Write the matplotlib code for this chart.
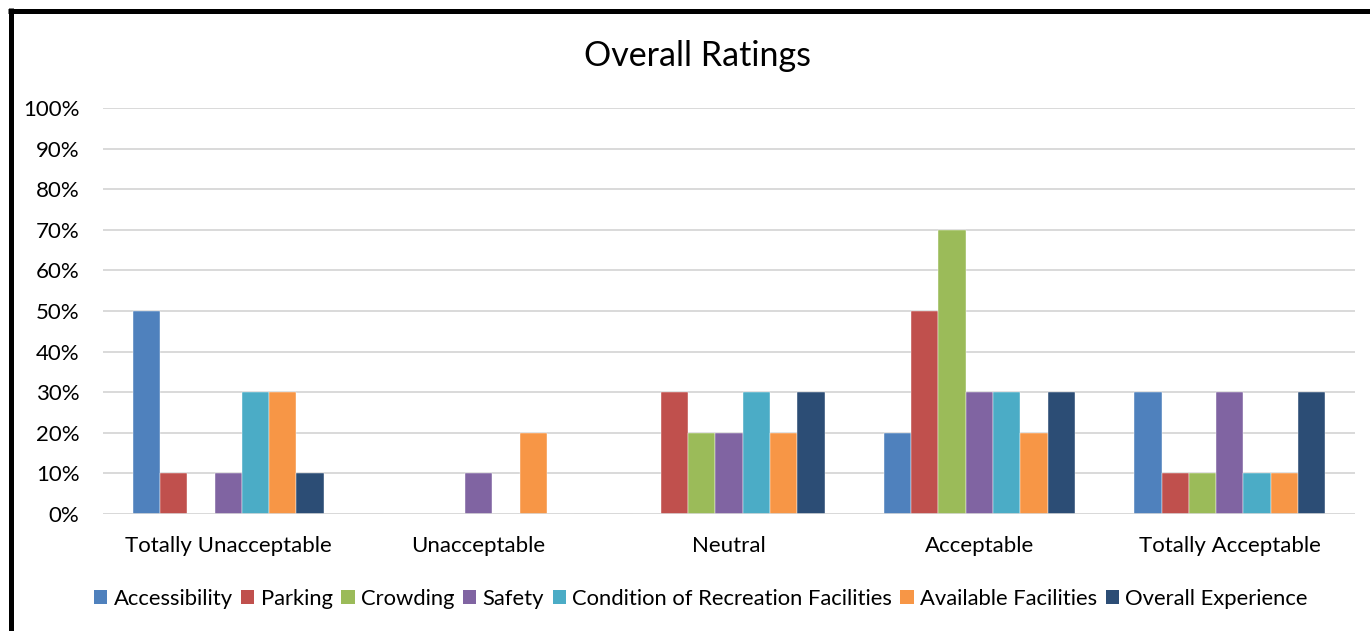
import matplotlib
matplotlib.use("Agg")
import matplotlib.pyplot as plt
from matplotlib.patches import Patch
from matplotlib.lines import Line2D
import numpy as np

categories = ["Totally Unacceptable", "Unacceptable", "Neutral", "Acceptable", "Totally Acceptable"]
series_names = ["Accessibility", "Parking", "Crowding", "Safety",
                "Condition of Recreation Facilities", "Available Facilities", "Overall Experience"]
accessibility = [0.50, 0.00, 0.00, 0.20, 0.30]
parking = [0.10, 0.00, 0.30, 0.50, 0.10]
crowding = [0.00, 0.00, 0.20, 0.70, 0.10]
safety = [0.10, 0.10, 0.20, 0.30, 0.30]
condition = [0.30, 0.00, 0.30, 0.30, 0.10]
available = [0.30, 0.20, 0.20, 0.20, 0.10]
overall = [0.10, 0.00, 0.30, 0.30, 0.30]
series_values = [accessibility, parking, crowding, safety, condition, available, overall]
colors = ["#4F81BD", "#C0504D", "#9BBB59", "#8064A2", "#4BACC6", "#F79646", "#2C4D75"]
y_ticks = [i / 10 for i in range(11)]
y_tick_labels = [f"{i*10}%" for i in range(11)]

W, H = 1370, 631
fig = plt.figure(figsize=(W / 100, H / 100), dpi=100)
plt.rcParams['font.family'] = ['Lato', 'DejaVu Sans']

left, right, top, bottom = 103, 1355, 108, 514
ax = fig.add_axes([left / W, (H - bottom) / H, (right - left) / W, (bottom - top) / H])

x = np.arange(len(categories))
bw = 0.109
n = len(series_values)
for i, (vals, c, name) in enumerate(zip(series_values, colors, series_names)):
    ax.bar(x + (i - (n - 1) / 2) * bw, vals, width=bw, color=c,
           edgecolor="white", linewidth=0.3, zorder=3, label=name)

fs = 16
ax.set_xlim(-0.5, len(categories) - 0.5)
ax.set_ylim(0, 1.0)
ax.set_yticks(y_ticks)
ax.set_yticklabels(y_tick_labels, fontsize=fs, color="#000000")
ax.set_xticks(x)
ax.set_xticklabels(categories, fontsize=fs, color="#000000")
ax.tick_params(axis="both", length=0)
ax.tick_params(axis="y", pad=17)
ax.tick_params(axis="x", pad=16)
for s in ax.spines.values():
    s.set_visible(False)
ax.yaxis.grid(True, color="#D9D9D9", linewidth=1.4, zorder=0)
ax.axhline(0, color="#D9D9D9", linewidth=1.8, zorder=4)
ax.set_axisbelow(True)

fig.text(697 / W, 1 - 56 / H, "Overall Ratings", ha="center", va="center", fontsize=24.5, color="#000000")

handles = [Patch(facecolor=c, edgecolor="none") for c in colors]
fig.legend(handles, series_names, loc="center", bbox_to_anchor=(701 / W, 1 - 599 / H),
           ncol=7, frameon=False, fontsize=15.8, handlelength=0.6, handleheight=0.6,
           handletextpad=0.3, columnspacing=0.38, borderaxespad=0)

# frame border
lw = 5 * 0.72
fig.add_artist(Line2D([10.5 / W, 10.5 / W], [0, 1 - 8 / H], transform=fig.transFigure,
                      color="black", linewidth=lw, solid_capstyle="butt"))
fig.add_artist(Line2D([8 / W, 1], [1 - 10.5 / H, 1 - 10.5 / H], transform=fig.transFigure,
                      color="black", linewidth=lw, solid_capstyle="butt"))

fig.savefig("out.png", dpi=100)
